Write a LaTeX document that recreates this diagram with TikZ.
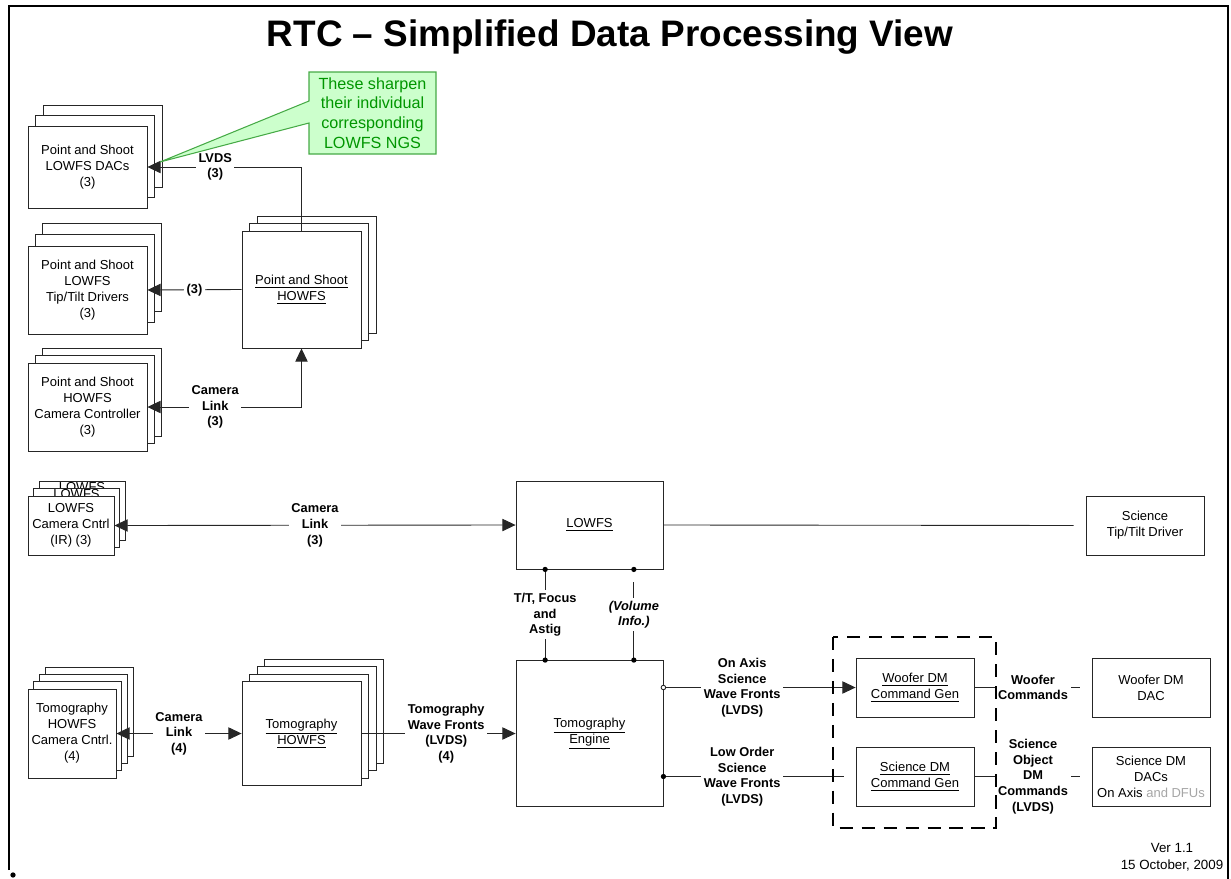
\documentclass[tikz,border=0pt]{standalone}
\usepackage{fontspec}
\setmainfont{Liberation Sans}
\usetikzlibrary{arrows.meta,calc,shadows}

\definecolor{notefill}{RGB}{204,255,204}
\definecolor{noteline}{RGB}{70,170,70}
\definecolor{notetext}{RGB}{0,150,0}

\newcommand\blkfont{\fontsize{7.4}{9.1}\selectfont}
\newcommand\labfont{\bfseries\fontsize{7.3}{8.9}\selectfont}

\tikzset{
  blk/.style={draw=black!85, line width=0.5pt, fill=white, align=center, font=\blkfont, inner sep=0pt},
  sh/.style 2 args={copy shadow={shadow xshift=#1, shadow yshift=#2, draw=black!85, line width=0.5pt}},
  lab/.style={fill=white, align=center, font=\labfont, inner sep=1.5pt},
  wire/.style={line width=0.5pt, draw=black!85},
  arr/.style={wire, -{Triangle[length=7.5pt,width=7pt]}},
  arrs/.style={wire, {Triangle[length=7.5pt,width=7pt]}-{Triangle[length=7.5pt,width=7pt]}},
}

\begin{document}
\begin{tikzpicture}[x=0.02cm,y=-0.02cm]
  \useasboundingbox (0,0) rectangle (1231,879);
  % frame and title
  \draw[line width=1.2pt] (9,870) -- (9,6) -- (1228,6) -- (1228,879);
  \fill (13,875) circle[radius=1.5pt];
  \node[anchor=base, font=\bfseries\fontsize{21}{24}\selectfont] (title) at (610,46) {RTC -- Simplified Data Processing View};

  % point and shoot group
  \node[blk, minimum width=2.38cm, minimum height=1.64cm, sh={0.30cm}{0.42cm}, sh={0.15cm}{0.21cm}] (pdac) at (87.5,167) {Point and Shoot\\LOWFS DACs\\(3)};
  \node[blk, minimum width=2.38cm, minimum height=1.76cm, sh={0.292cm}{0.46cm}, sh={0.146cm}{0.23cm}] (ptt) at (87.5,290) {Point and Shoot\\LOWFS\\Tip/Tilt Drivers\\(3)};
  \node[blk, minimum width=2.38cm, minimum height=1.76cm, sh={0.292cm}{0.30cm}, sh={0.146cm}{0.15cm}] (pcam) at (87.5,407) {Point and Shoot\\HOWFS\\Camera Controller\\(3)};
  \node[blk, minimum width=2.38cm, minimum height=2.34cm, sh={0.30cm}{0.30cm}, sh={0.15cm}{0.15cm}] (phowfs) at (301.5,289.5) {\underline{Point and Shoot}\\\underline{HOWFS}};

  \draw[arr] (phowfs.north) |- node[lab, pos=0.78] (lvds) {LVDS\\(3)} (pdac.east);
  \draw[arr] (phowfs.west) -- node[lab] (ttnum) {(3)} (ptt.east);
  \draw[arrs] (pcam.east) -| node[lab, pos=0.22] (pclink) {Camera\\Link\\(3)} (phowfs.south);

  % note with pointer
  \draw[draw=noteline, fill=notefill, line width=0.6pt, line join=miter]
    (309,72) -- (436,72) -- (436,154) -- (309,154) -- (309,123) -- (160,162) -- (309,101) -- cycle;
  \node[text=notetext, align=center, font=\fontsize{9.2}{11.2}\selectfont] (note) at (372.5,113)
    {These sharpen\\their individual\\corresponding\\LOWFS NGS};

  % lowfs row
  \node[blk, minimum width=1.72cm, minimum height=1.18cm] (lcam3) at (82,510.5) {LOWFS\\Camera Cntrl\\(IR) (3)\\~};
  \node[blk, minimum width=1.72cm, minimum height=1.18cm] (lcam2) at (76.5,518) {LOWFS\\Camera Cntrl\\(IR) (3)\\~};
  \node[blk, minimum width=1.72cm, minimum height=1.18cm] (lcam) at (71,525.5) {LOWFS\\Camera Cntrl\\(IR) (3)};
  \node[blk, minimum width=2.94cm, minimum height=1.76cm] (lowfs) at (589.5,525) {\underline{LOWFS}};
  \node[blk, minimum width=2.36cm, minimum height=1.18cm] (scitt) at (1145,525.5) {Science\\Tip/Tilt Driver};

  \draw[arrs] (lcam.east) -- node[lab] (lclink) {Camera\\Link\\(3)} (lowfs.west);
  \draw[wire, shorten >=0.24cm] (lowfs.east) -- (scitt.west);

  % tomography row
  \node[blk, minimum width=1.76cm, minimum height=1.78cm, sh={0.342cm}{0.432cm}, sh={0.228cm}{0.288cm}, sh={0.114cm}{0.144cm}] (tcam) at (72,733.5) {Tomography\\HOWFS\\Camera Cntrl.\\(4)};
  \node[blk, minimum width=2.38cm, minimum height=2.08cm, sh={0.45cm}{0.438cm}, sh={0.30cm}{0.292cm}, sh={0.15cm}{0.146cm}] (thowfs) at (301.5,733.5) {\underline{Tomography}\\\underline{HOWFS}};
  \node[blk, minimum width=2.94cm, minimum height=2.92cm] (teng) at (589.5,733.5) {\underline{Tomography}\\\underline{Engine}};
  \node[blk, minimum width=2.36cm, minimum height=1.18cm] (wgen) at (915,687.5) {\underline{Woofer DM}\\\underline{Command Gen}};
  \node[blk, minimum width=2.36cm, minimum height=1.18cm] (sgen) at (915,776.5) {\underline{Science DM}\\\underline{Command Gen}};
  \node[blk, minimum width=2.36cm, minimum height=1.18cm] (wdac) at (1151,687.5) {Woofer DM\\DAC};
  \node[blk, minimum width=2.36cm, minimum height=1.18cm] (sdac) at (1151,776.5) {Science DM\\DACs\\On Axis \textcolor{black!35}{and DFUs}};

  \draw[arrs] (tcam.east) -- node[lab] (tclink) {Camera\\Link\\(4)} (thowfs.west);
  \draw[arr] (thowfs.east) -- node[lab, pos=0.55] (twf) {Tomography\\Wave Fronts\\(LVDS)\\(4)} (teng.west);

  % lowfs to engine
  \coordinate (ttA) at ($(lowfs.south west)!0.2!(lowfs.south east)$);
  \coordinate (ttB) at ($(teng.north west)!0.2!(teng.north east)$);
  \coordinate (viA) at ($(lowfs.south west)!0.8!(lowfs.south east)$);
  \coordinate (viB) at ($(teng.north west)!0.8!(teng.north east)$);
  \draw[wire] (ttA) -- node[lab] (ttlab) {T/T, Focus\\and\\Astig} (ttB);
  \draw[wire, shorten <=0.26cm] (viA) -- node[lab] (vilab) {\textit{(Volume}\\\textit{Info.)}} (viB);
  \fill (ttA) circle[radius=1.5pt];
  \fill (ttB) circle[radius=1.5pt];
  \fill (viA) circle[radius=1.5pt];
  \fill (viB) circle[radius=1.5pt];

  % engine to dm
  \draw[arr] (teng.east |- wgen.west) -- node[lab, pos=0.41] (oawf) {On Axis\\Science\\Wave Fronts\\(LVDS)} (wgen.west);
  \draw[wire, shorten >=0.24cm] (teng.east |- sgen.west) -- node[lab, pos=0.41] (lowf) {Low Order\\Science\\Wave Fronts\\(LVDS)} (sgen.west);
  \draw[wire, fill=white] (teng.east |- wgen.west) circle[radius=1.3pt];
  \fill (teng.east |- sgen.west) circle[radius=1.5pt];
  \draw[wire, shorten >=0.24cm] (wgen.east) -- node[lab] (wcmd) {Woofer\\Commands} (wdac.west);
  \draw[wire, shorten >=0.24cm] (sgen.east) -- node[lab] (scmd) {Science\\Object\\DM\\Commands\\(LVDS)} (sdac.west);

  \draw[line width=1.2pt, dash pattern=on 7.5pt off 5pt] (833,637) rectangle (996,828);

  \node[align=center, font=\fontsize{7.6}{9.6}\selectfont] (ver) at (1172,857) {Ver 1.1\\15 October, 2009};
\end{tikzpicture}
\end{document}
